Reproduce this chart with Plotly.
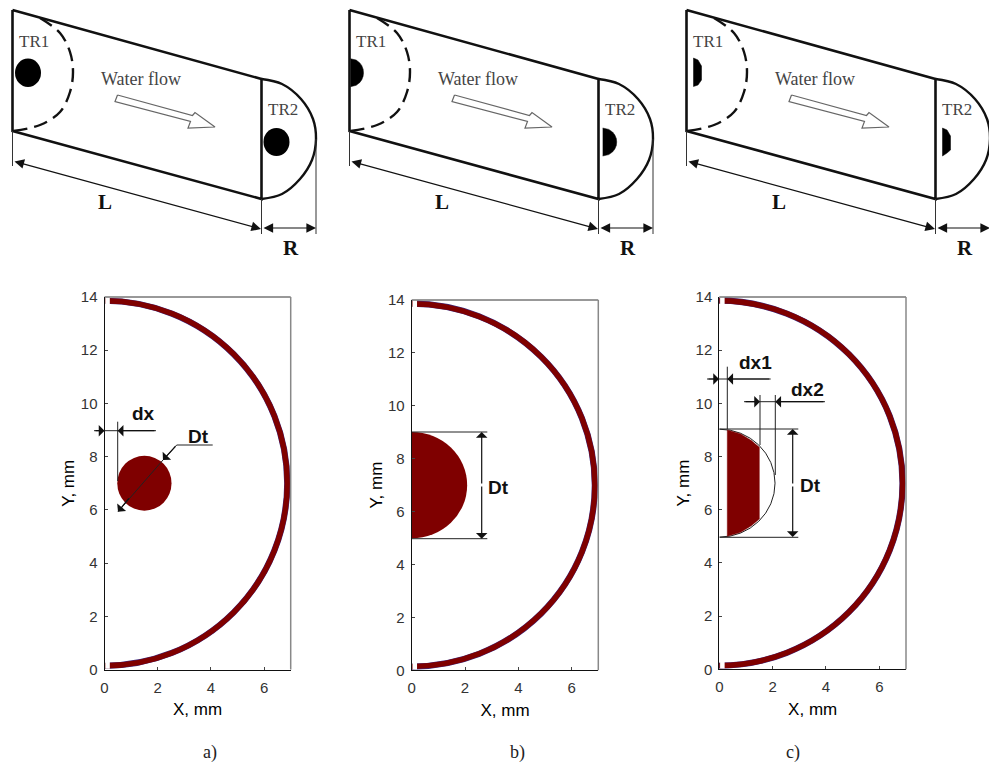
import plotly.graph_objects as go

W, H = 989, 763
# ---------- bottom panels: values in mm ----------
x_ticks = [0, 2, 4, 6]
y_ticks = [0, 2, 4, 6, 8, 10, 12, 14]
wall_radius = [6.87, 6.86]
wall_centre = [0.0, 7.0]
disc_a = [1.5, 7.0, 1.02, 1.03]
disc_b = [0.0, 7.0, 2.08, 2.01]
disc_c = [0.0, 7.0, 2.09, 2.03]
seg_c_x = [0.3, 0.3, 0.8, 1.2, 1.5, 1.5, 1.2, 0.8, 0.3]
seg_c_y = [5.0, 9.0, 8.85, 8.6, 8.35, 5.65, 5.4, 5.15, 5.0]
panel_names = ["a)", "b)", "c)"]

# ---------- top schematic: read in picture units ----------
top_dx = [0, 337, 674]
body_x = [12.5, 261.5, 261.5, 12.5, 12.5]
body_y = [10, 79, 199, 131, 10]
end_x = [261.5, 282, 301, 313, 316, 312, 300, 282, 261.5]
end_y = [79, 84, 99, 119, 139, 160, 179, 194, 199]
dash_x = [40, 60, 70, 73, 70, 60, 40, 12.5]
dash_y = [18, 33, 52, 72, 92, 112, 125, 131]
blob_tr1 = [15, 41, 58.5, 87]
blob_tr2 = [263.5, 289.5, 128, 156]
half_y1 = [58.7, 60.1, 62.9, 65.7, 69.2, 72.7, 76.2, 79.7, 82.5, 85.3, 86.7]
half_y2 = [128, 129.4, 132.2, 135, 138.5, 142, 145.5, 149, 151.8, 154.6, 156]
half_x1 = [13.5, 19.2, 22.8, 24.8, 26.1, 26.5, 26.1, 24.8, 22.8, 19.2, 13.5]
half_x2 = [265.7, 271.8, 275.7, 277.8, 279.3, 279.7, 279.3, 277.8, 275.7, 271.8, 265.7]
trunc_x1 = [19.5, 24, 27.5, 27.5, 24, 19.5, 19.5]
trunc_y1 = [58, 60, 66, 80, 85, 86.5, 58]
trunc_x2 = [268.5, 273, 276.5, 276.5, 273, 268.5, 268.5]
trunc_y2 = [128, 130, 136, 150, 153, 156, 128]
flow_x = [117.5, 192.5, 195, 215, 188, 190.5, 115, 117.5]
flow_y = [95, 115.5, 112.5, 127, 128, 121.5, 101.5, 95]
ext_lines = [([12.5, 12.5], [131, 166]), ([261.5, 261.5], [199, 234]), ([316, 316], [139, 234])]
top_arrows = [(13, 161, 261, 229), (262, 228, 316, 228)]
top_labels = [("TR1", 34, 41, 17, False), ("TR2", 283, 109, 17, False), ("Water flow", 141, 79, 18, False),
              ("L", 105, 202, 21, True), ("R", 291, 248, 21, True)]

# ---------- dimension marks on lower panels ----------
dim_lines = [
    ([117.7, 117.7], [421.7, 481]), ([94, 156], [430.7, 430.7]),
    ([212.7, 176.7, 163], [445, 445, 460]), ([163, 118], [460, 511.7]),
    ([412, 487.3], [432, 432]), ([412, 487.3], [538.7, 538.7]),
    ([727.3, 727.3], [366.7, 429]), ([707, 770.7], [379, 379]),
    ([744, 775.3], [401.7, 401.7]), ([775.3, 825], [401.7, 401.7]),
    ([760, 760], [395, 445]), ([775.3, 775.3], [395, 475]),
    ([719.7, 798.3], [429, 429]), ([720, 798.3], [537.3, 537.3]),
]
dim_arrows = [
    (94, 430.7, 104.5, 430.7), (156, 430.7, 117.7, 430.7), (176.7, 445, 163, 460), (130, 497, 118, 511.7),
    (481.7, 485, 481.7, 432), (481.7, 485, 481.7, 538.7),
    (707, 379, 719, 379), (770.7, 379, 727.3, 379), (744, 401.7, 760, 401.7), (825, 401.7, 775.3, 401.7),
    (792.7, 485, 792.7, 429), (792.7, 485, 792.7, 537),
]
dim_labels = [("dx", 143, 413), ("Dt", 198, 436), ("Dt", 498, 487), ("dx1", 755, 362), ("dx2", 807, 389), ("Dt", 810, 485)]

AXES = [(104.5, 290.7, 297.0, 669.5), (411.7, 598.3, 300.0, 670.3), (719.3, 906.0, 297.0, 669.3)]
WINE, FRINGE = "#7f0000", "#3c2a80"

fig = go.Figure()
layout = dict(width=W, height=H, margin=dict(l=0, r=0, t=0, b=0, autoexpand=False), paper_bgcolor="white", plot_bgcolor="rgba(0,0,0,0)",
              showlegend=False, font=dict(family="Liberation Sans", color="#333"))
shapes, anns = [], []

for i, (x0, x1, top, bot) in enumerate(AXES):
    n = "" if i == 0 else str(i + 1)
    layout["xaxis" + n] = dict(domain=[x0 / W, x1 / W], range=[0, 7], tickvals=x_ticks, ticks="inside", ticklen=3,
                               showline=True, linecolor="#111", showgrid=False, zeroline=False, anchor="y" + n,
                               automargin=False, ticklabelstandoff=4,
                               tickfont=dict(size=15, color="#333"),
                               title=dict(text="X, mm", font=dict(size=17, color="#000"), standoff=8))
    layout["yaxis" + n] = dict(domain=[1 - bot / H, 1 - top / H], range=[0, 14], tickvals=y_ticks, ticks="inside", ticklen=3,
                               showline=True, linecolor="#111", showgrid=False, zeroline=False, anchor="x" + n,
                               automargin=False, ticklabelstandoff=3,
                               tickfont=dict(size=15, color="#333"),
                               title=dict(text="Y, mm", font=dict(size=17, color="#000"), standoff=1))
    xr, yr = "x" + n, "y" + n
    shapes.append(dict(type="line", xref=xr + " domain", yref=yr + " domain", x0=0, x1=1, y0=1, y1=1, line=dict(color="#333", width=1)))
    shapes.append(dict(type="line", xref=xr + " domain", yref=yr + " domain", x0=1, x1=1, y0=0, y1=1, line=dict(color="#888", width=1.5)))
    for col, w in ((FRINGE, 6.2), (WINE, 5.4)):
        shapes.append(dict(type="circle", layer="below", xref=xr, yref=yr, x0=wall_centre[0] - wall_radius[0], x1=wall_centre[0] + wall_radius[0],
                           y0=wall_centre[1] - wall_radius[1], y1=wall_centre[1] + wall_radius[1], line=dict(color=col, width=w)))
    for y0, y1 in ((0.03, 1), (13, 14)):
        shapes.append(dict(type="rect", layer="below", xref=xr, yref=yr, x0=0.03, x1=0.2, y0=y0, y1=y1, fillcolor="white", line=dict(width=0)))
    anns.append(dict(text=panel_names[i], xref="x4", yref="y4", x=[210, 517, 793][i], y=752, showarrow=False,
                     font=dict(family="Liberation Serif", size=18, color="#222")))

def disc(xr, yr, d, fill=True, lw=0, col=WINE):
    shapes.append(dict(type="circle", layer="below", xref=xr, yref=yr, x0=d[0] - d[2], x1=d[0] + d[2], y0=d[1] - d[3], y1=d[1] + d[3],
                       fillcolor=WINE if fill else "rgba(0,0,0,0)", line=dict(color=col, width=lw)))

disc("x", "y", disc_a)
disc("x2", "y2", disc_b)
disc("x3", "y3", disc_c, fill=False, lw=1, col="#222")
fig.add_trace(go.Scatter(x=seg_c_x, y=seg_c_y, xaxis="x3", yaxis="y3", mode="lines", fill="toself", fillcolor=WINE,
                         line=dict(color=WINE, width=0.5), hoverinfo="skip"))

layout["xaxis4"] = dict(domain=[0, 1], range=[0, W], visible=False, anchor="y4", automargin=False)
layout["yaxis4"] = dict(domain=[0, 1], range=[H, 0], visible=False, anchor="x4", automargin=False)

def line(xs, ys, width=1.0, color="#111", dash=None, shape="linear", fill=None, fillcolor=None):
    fig.add_trace(go.Scatter(x=xs, y=ys, xaxis="x4", yaxis="y4", mode="lines", hoverinfo="skip", fill=fill, fillcolor=fillcolor,
                             line=dict(width=width, color=color, dash=dash, shape=shape)))

for b in (blob_tr1, blob_tr2):
    shapes.append(dict(type="circle", xref="x4", yref="y4", x0=b[0], x1=b[1], y0=b[2], y1=b[3], fillcolor="#000", line=dict(width=0)))

for i, dx in enumerate(top_dx):
    sx = lambda v: [a + dx for a in v]
    line(sx(body_x), body_y, 2.6)
    line(sx(end_x), end_y, 2.4, shape="spline")
    line(sx(dash_x), dash_y, 2.4, dash="14px,7px", shape="spline")
    if i == 1:
        line(sx(half_x1), half_y1, 0.5, "#000", fill="toself", fillcolor="#000")
        line(sx(half_x2), half_y2, 0.5, "#000", fill="toself", fillcolor="#000")
    if i == 2:
        line(sx(trunc_x1), trunc_y1, 0.5, "#000", fill="toself", fillcolor="#000")
        line(sx(trunc_x2), trunc_y2, 0.5, "#000", fill="toself", fillcolor="#000")
    line(sx(flow_x), flow_y, 1.2, "#666", fill="toself", fillcolor="white")
    for ex, ey in ext_lines:
        line(sx(ex), ey, 1, "#333")
    for ax, ay, bx, by in top_arrows:
        anns.append(dict(text="", xref="x4", yref="y4", axref="x4", ayref="y4", x=bx + dx, y=by, ax=ax + dx, ay=ay,
                         showarrow=True, arrowhead=2, arrowside="end+start", arrowsize=1.6, arrowwidth=1.2, arrowcolor="#111", standoff=0, startstandoff=0))
    for t, x, y, s, bold in top_labels:
        anns.append(dict(text=f"<b>{t}</b>" if bold else t, xref="x4", yref="y4", x=x + dx, y=y, showarrow=False,
                         font=dict(family="Liberation Serif", size=s, color="#111" if bold else "#444")))

for xs, ys in dim_lines:
    line(xs, ys, 1, "#222")
for ax, ay, bx, by in dim_arrows:
    anns.append(dict(text="", xref="x4", yref="y4", axref="x4", ayref="y4", x=bx, y=by, ax=ax, ay=ay, showarrow=True,
                     arrowhead=1, arrowsize=1.6, arrowwidth=1.2, arrowcolor="#111", standoff=0))
for t, x, y in dim_labels:
    anns.append(dict(text=f"<b>{t}</b>", xref="x4", yref="y4", x=x, y=y, showarrow=False,
                     font=dict(family="Liberation Sans", size=19, color="#111")))

layout["shapes"] = shapes
layout["annotations"] = anns
fig.update_layout(**layout)
fig.write_html("out.html", config={"displayModeBar": False}, post_script="document.body.style.margin='0';")
